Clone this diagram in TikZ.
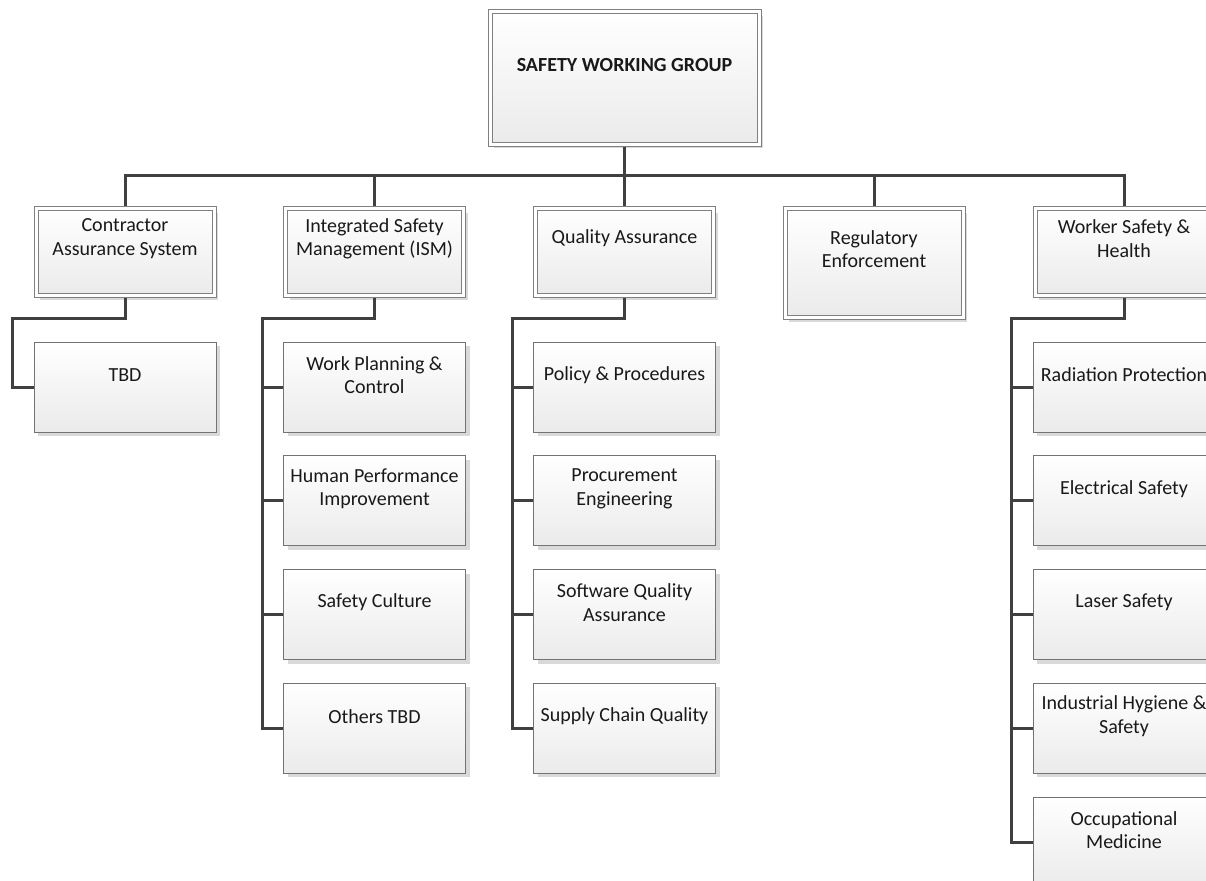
\documentclass[tikz,border=0pt]{standalone}
\usepackage{fontspec}
\setmainfont{Carlito}
\usetikzlibrary{shadows}
\tikzset{
  unitbox/.style={draw=black!55, line width=0.75pt, top color=white, bottom color=black!8,
    minimum width=136.5pt, minimum height=67.5pt, inner sep=0pt,
    drop shadow={shadow xshift=3pt, shadow yshift=-3pt, fill=black!15, opacity=1}},
  groupbox/.style={unitbox, draw=black!50, double=white, double distance=2.25pt,
    minimum width=133.5pt, minimum height=65.25pt, outer sep=1.875pt},
  caption/.style={font=\fontsize{15}{17.5}\selectfont, align=center, inner sep=0pt, text=black!90},
  link/.style={draw=black!75, line width=2.25pt}
}
\begin{document}
\begin{tikzpicture}[x=0.75pt,y=-0.75pt]
\useasboundingbox (0,0) rectangle (1206,881);
\fill[white] (0,0) rectangle (1206,881);
% head of the group
\node[groupbox, minimum width=201.75pt, minimum height=99pt] (swg) at (624.5,78) {};
\node[caption, font=\fontsize{15}{17.5}\selectfont\bfseries] (swg-t) at (624.5,65) {SAFETY WORKING GROUP};
% first level
\node[groupbox, anchor=north] (cas) at (125,206) {};
\node[groupbox, anchor=north] (ism) at (374.5,206) {};
\node[groupbox, anchor=north] (qa) at (624.5,206) {};
\node[groupbox, anchor=north, minimum height=81.75pt] (reg) at (874,206) {};
\node[groupbox, anchor=north] (wsh) at (1124,206) {};
\node[caption] (cas-t) at (125,238.5) {Contractor\\Assurance System};
\node[caption] (ism-t) at (374.5,238.5) {Integrated Safety\\Management (ISM)};
\node[caption] (qa-t) at (624.5,238.5) {Quality Assurance};
\node[caption] (reg-t) at (874,249) {Regulatory\\Enforcement};
\node[caption] (wsh-t) at (1124,238.5) {Worker Safety \&\\Health};
% contractor assurance
\node[unitbox] (tbd) at (125,387) {};
\node[caption] (tbd-t) at (125,375) {TBD};
% ism
\node[unitbox] (wpc) at (374.5,387) {};
\node[unitbox] (hpi) at (374.5,500.75) {};
\node[unitbox] (sfc) at (374.5,614.5) {};
\node[unitbox] (otb) at (374.5,728.25) {};
\node[caption] (wpc-t) at (374.5,375) {Work Planning \&\\Control};
\node[caption] (hpi-t) at (374.5,488.75) {Human Performance\\Improvement};
\node[caption] (sfc-t) at (374.5,602.5) {Safety Culture};
\node[caption] (otb-t) at (374.5,716.25) {Others TBD};
% quality assurance
\node[unitbox] (ppr) at (624.5,387) {};
\node[unitbox] (pen) at (624.5,500.75) {};
\node[unitbox] (sqa) at (624.5,614.5) {};
\node[unitbox] (scq) at (624.5,728.25) {};
\node[caption] (ppr-t) at (624.5,375) {Policy \& Procedures};
\node[caption] (pen-t) at (624.5,488.75) {Procurement\\Engineering};
\node[caption] (sqa-t) at (624.5,602.5) {Software Quality\\Assurance};
\node[caption] (scq-t) at (624.5,716.25) {Supply Chain Quality};
% worker safety and health
\node[unitbox] (rpr) at (1124,387) {};
\node[unitbox] (els) at (1124,500.75) {};
\node[unitbox] (lss) at (1124,614.5) {};
\node[unitbox] (ihs) at (1124,728.25) {};
\node[unitbox] (ocm) at (1124,842) {};
\node[caption] (rpr-t) at (1124,375) {Radiation Protection};
\node[caption] (els-t) at (1124,488.75) {Electrical Safety};
\node[caption] (lss-t) at (1124,602.5) {Laser Safety};
\node[caption] (ihs-t) at (1124,716.25) {Industrial Hygiene \&\\Safety};
\node[caption] (ocm-t) at (1124,830) {Occupational\\Medicine};
% connectors
\coordinate (bus) at (624.5,175);
\draw[link] (swg.south) -- (qa.north);
\draw[link] (cas.north) |- (bus) -| (wsh.north);
\draw[link] (ism.north) -- (ism.north |- bus);
\draw[link] (reg.north) -- (reg.north |- bus);
\coordinate (cas-trunk) at (12,318);
\coordinate (ism-trunk) at (262,318);
\coordinate (qa-trunk) at (512,318);
\coordinate (wsh-trunk) at (1011,318);
\draw[link] (cas.south) |- (cas-trunk) |- (tbd.west);
\draw[link] (ism.south) |- (ism-trunk) |- (otb.west);
\draw[link] (qa.south) |- (qa-trunk) |- (scq.west);
\draw[link] (wsh.south) |- (wsh-trunk) |- (ocm.west);
\foreach \n in {wpc,hpi,sfc}
  \draw[link] (ism-trunk |- \n.west) -- (\n.west);
\foreach \n in {ppr,pen,sqa}
  \draw[link] (qa-trunk |- \n.west) -- (\n.west);
\foreach \n in {rpr,els,lss,ihs}
  \draw[link] (wsh-trunk |- \n.west) -- (\n.west);
\end{tikzpicture}
\end{document}
